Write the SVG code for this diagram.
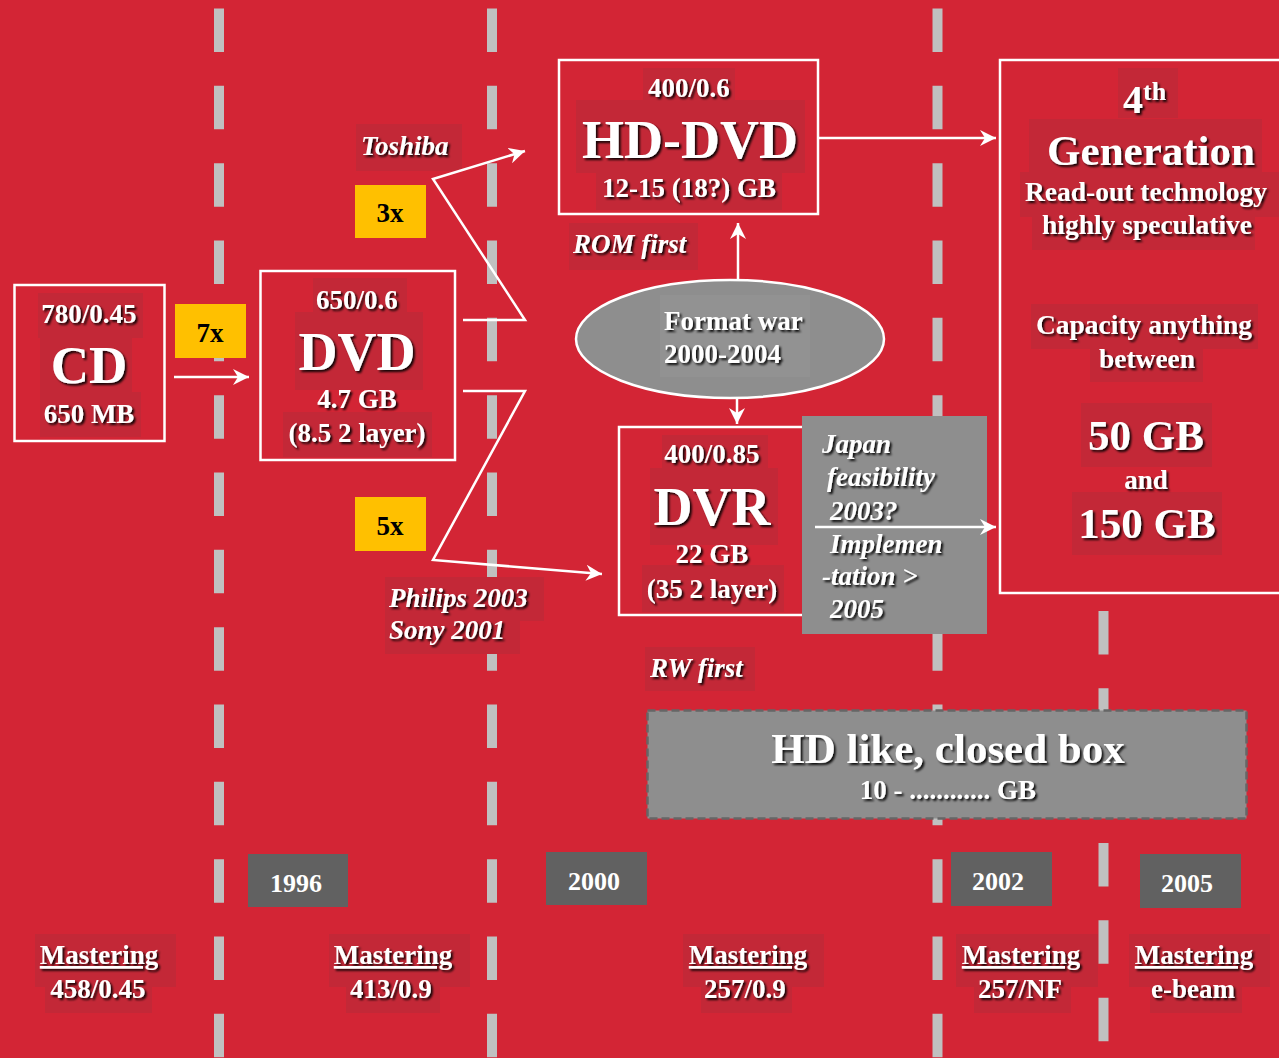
<svg xmlns="http://www.w3.org/2000/svg" width="1279" height="1058" viewBox="0 0 1279 1058">
<defs>
<style>
.bg{fill:#D32535}
.vl{stroke:#C0C0C0;stroke-width:10;stroke-dasharray:43.5 33.83;fill:none}
.box{fill:none;stroke:#fff;stroke-width:2.5}
.tb{fill:#C32837}
.gb{fill:#8E8E8E}
.yb{fill:#616161}
.ylw{fill:#FFC000}
.t{font-family:"Liberation Serif","Times New Roman",serif;font-weight:bold;fill:#fff;filter:url(#sh)}
.c{text-anchor:middle}
.i{font-style:italic}
.s{font-size:27px}
.b{font-size:54px}
.m{font-size:43px}
.k{font-family:"Liberation Serif","Times New Roman",serif;font-weight:bold;fill:#000;font-size:27px;text-anchor:middle}
.y{font-family:"Liberation Serif","Times New Roman",serif;font-weight:bold;fill:#fff;font-size:26px;text-anchor:middle}
.u{text-decoration:underline}
.ar{stroke:#fff;stroke-width:2.5;fill:none;marker-end:url(#ah)}
</style>
<filter id="sh" x="-10%" y="-20%" width="130%" height="150%">
<feDropShadow dx="2" dy="2" stdDeviation="0.9" flood-color="#000" flood-opacity="0.9"/>
</filter>
<marker id="ah" markerUnits="userSpaceOnUse" markerWidth="16" markerHeight="16" refX="16" refY="8" orient="auto">
<path d="M0,0 L16,8 L0,16 L5,8 z" fill="#fff"/>
</marker>
</defs>
<rect class="bg" x="0" y="0" width="1279" height="1058"/>

<g id="timeline">
<line class="vl" x1="219" y1="8.5" x2="219" y2="1058"/>
<line class="vl" x1="492" y1="8.5" x2="492" y2="1058"/>
<line class="vl" x1="937.5" y1="8.5" x2="937.5" y2="1058"/>
<line class="vl" x1="1103.5" y1="611" x2="1103.5" y2="1058"/>
</g>

<g id="cd">
<rect class="box" x="14.5" y="285" width="150" height="156"/>
<rect class="tb" x="38" y="293" width="105" height="45"/>
<rect class="tb" x="40" y="338" width="92" height="54"/>
<rect class="tb" x="40" y="392" width="101" height="45"/>
<text class="t c s" x="89" y="323">780/0.45</text>
<text class="t c" x="89" y="383" font-size="53">CD</text>
<text class="t c s" x="89" y="423">650 MB</text>
</g>

<g id="x7">
<rect class="ylw" x="175" y="304" width="71" height="54"/>
<text class="k" x="210" y="342">7x</text>
</g>

<g id="dvd">
<rect class="box" x="260.5" y="271" width="194.5" height="189"/>
<rect class="tb" x="313" y="278" width="94" height="34"/>
<rect class="tb" x="295" y="312" width="128" height="78"/>
<rect class="tb" x="283" y="412" width="149" height="45"/>
<text class="t c s" x="357" y="309">650/0.6</text>
<text class="t c b" x="357" y="370">DVD</text>
<text class="t c s" x="357" y="408">4.7 GB</text>
<text class="t c s" x="357" y="442">(8.5 2 layer)</text>
</g>

<g id="x3">
<rect class="ylw" x="355" y="185" width="71" height="53"/>
<text class="k" x="390" y="222">3x</text>
</g>

<g id="x5">
<rect class="ylw" x="355" y="497" width="71" height="54"/>
<text class="k" x="390" y="535">5x</text>
</g>

<g id="toshiba">
<rect class="tb" x="356" y="124" width="106" height="47"/>
<text class="t i s" x="361" y="155">Toshiba</text>
</g>

<g id="philips">
<rect class="tb" x="385" y="577" width="159" height="44"/>
<rect class="tb" x="385" y="621" width="135" height="33"/>
<text class="t i s" x="389" y="607">Philips 2003</text>
<text class="t i s" x="389" y="639">Sony 2001</text>
</g>

<g id="hddvd">
<rect class="box" x="559" y="60" width="259" height="154"/>
<rect class="tb" x="643" y="68" width="92" height="32"/>
<rect class="tb" x="576" y="100" width="229" height="73"/>
<rect class="tb" x="596" y="173" width="186" height="37"/>
<text class="t c s" x="689" y="97">400/0.6</text>
<text class="t c b" x="690" y="158">HD-DVD</text>
<text class="t c s" x="689" y="197">12-15 (18?) GB</text>
</g>

<g id="romfirst">
<rect class="tb" x="569" y="223" width="129" height="47"/>
<text class="t i s" x="573" y="253">ROM first</text>
</g>

<g id="formatwar">
<ellipse cx="730" cy="339" rx="154" ry="59" fill="#8E8E8E" stroke="#fff" stroke-width="2.5"/>
<rect x="660" y="295" width="150" height="82" fill="#929292"/>
<text class="t s" x="664" y="330">Format war</text>
<text class="t s" x="664" y="363">2000-2004</text>
</g>

<g id="dvr">
<rect class="box" x="619" y="427" width="186" height="188"/>
<rect class="tb" x="662" y="435" width="106" height="33"/>
<rect class="tb" x="650" y="468" width="128" height="77"/>
<rect class="tb" x="642" y="565" width="142" height="47"/>
<text class="t c s" x="712" y="463">400/0.85</text>
<text class="t c b" x="712" y="525">DVR</text>
<text class="t c s" x="712" y="563">22 GB</text>
<text class="t c s" x="712" y="598">(35 2 layer)</text>
</g>

<g id="japan">
<rect class="gb" x="802" y="416" width="185" height="218"/>
<text class="t i s" x="822" y="453">Japan</text>
<text class="t i s" x="827" y="486">feasibility</text>
<text class="t i s" x="830" y="520">2003?</text>
<text class="t i s" x="830" y="553">Implemen</text>
<text class="t i s" x="822" y="585">-tation &gt;</text>
<text class="t i s" x="830" y="618">2005</text>
</g>

<g id="rwfirst">
<rect class="tb" x="645" y="647" width="110" height="44"/>
<text class="t i s" x="650" y="677">RW first</text>
</g>

<g id="gen4">
<rect class="box" x="1000" y="60" width="300" height="533"/>
<rect class="tb" x="1118" y="68" width="60" height="50"/>
<rect class="tb" x="1029" y="119" width="233" height="53"/>
<rect class="tb" x="1020" y="172" width="259" height="45"/>
<rect class="tb" x="1032" y="217" width="223" height="33"/>
<rect class="tb" x="1031" y="304" width="227" height="45"/>
<rect class="tb" x="1090" y="349" width="113" height="33"/>
<rect class="tb" x="1081" y="403" width="131" height="64"/>
<rect class="tb" x="1072" y="492" width="150" height="63"/>
<text class="t" x="1123" y="113" font-size="40">4<tspan font-size="26" dy="-13">th</tspan></text>
<text class="t c m" x="1151" y="165">Generation</text>
<text class="t c" x="1146" y="201" font-size="27.5">Read-out technology</text>
<text class="t c" x="1147" y="234" font-size="27.5">highly speculative</text>
<text class="t c" x="1144" y="334" font-size="27.5">Capacity anything</text>
<text class="t c" x="1147" y="368" font-size="27.5">between</text>
<text class="t c m" x="1146" y="450">50 GB</text>
<text class="t c s" x="1146" y="489">and</text>
<text class="t c m" x="1147" y="538">150 GB</text>
</g>

<g id="hdbox">
<rect x="647.5" y="710.5" width="599" height="108" fill="#8E8E8E" stroke="#666" stroke-width="2.5" stroke-dasharray="8 4"/>
<text class="t c m" x="948" y="763">HD like, closed box</text>
<text class="t c s" x="948" y="799">10 - ............ GB</text>
</g>

<g id="y1996"><rect class="yb" x="248" y="854" width="100" height="53"/><text class="y" x="296" y="892">1996</text></g>
<g id="y2000"><rect class="yb" x="546" y="852" width="101" height="53"/><text class="y" x="594" y="890">2000</text></g>
<g id="y2002"><rect class="yb" x="951" y="852" width="101" height="54"/><text class="y" x="998" y="890">2002</text></g>
<g id="y2005"><rect class="yb" x="1140" y="854" width="101" height="54"/><text class="y" x="1187" y="892">2005</text></g>

<g id="m1">
<rect class="tb" x="35" y="934" width="141" height="53"/>
<rect class="tb" x="45" y="987" width="107" height="26"/>
<text class="t c s u" x="99" y="964">Mastering</text>
<text class="t c s" x="98" y="998">458/0.45</text>
</g>
<g id="m2">
<rect class="tb" x="329" y="934" width="141" height="53"/>
<rect class="tb" x="346" y="987" width="94" height="26"/>
<text class="t c s u" x="393" y="964">Mastering</text>
<text class="t c s" x="391" y="998">413/0.9</text>
</g>
<g id="m3">
<rect class="tb" x="683" y="934" width="141" height="53"/>
<rect class="tb" x="701" y="987" width="91" height="26"/>
<text class="t c s u" x="748" y="964">Mastering</text>
<text class="t c s" x="745" y="998">257/0.9</text>
</g>
<g id="m4">
<rect class="tb" x="956" y="934" width="142" height="53"/>
<rect class="tb" x="974" y="987" width="97" height="26"/>
<text class="t c s u" x="1021" y="964">Mastering</text>
<text class="t c s" x="1020" y="998">257/NF</text>
</g>
<g id="m5">
<rect class="tb" x="1129" y="934" width="141" height="53"/>
<rect class="tb" x="1150" y="987" width="92" height="26"/>
<text class="t c s u" x="1194" y="964">Mastering</text>
<text class="t c s" x="1193" y="998">e-beam</text>
</g>

<g id="connectors">
<line class="ar" x1="174" y1="377" x2="249" y2="377"/>
<polyline class="ar" points="463,320 525,320 433,179 525,151"/>
<polyline class="ar" points="463,391 525,391 433,560 602,574"/>
<line class="ar" x1="738" y1="279" x2="738" y2="223"/>
<line class="ar" x1="737" y1="398" x2="737" y2="424"/>
<line class="ar" x1="818" y1="138" x2="996" y2="138"/>
<line class="ar" x1="815" y1="527" x2="996" y2="527"/>
</g>
</svg>
